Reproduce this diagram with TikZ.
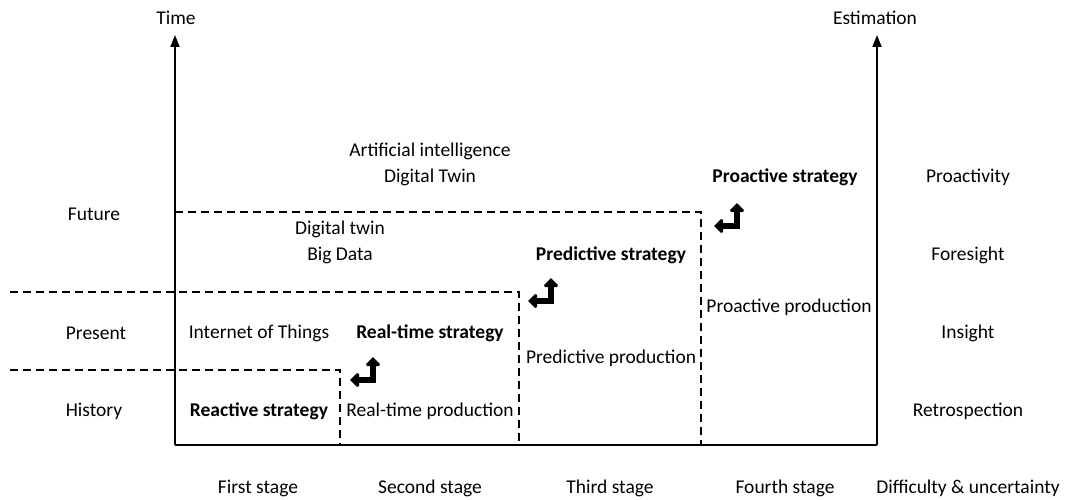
\documentclass[tikz,border=0pt]{standalone}
\usepackage{fontspec}
\setmainfont{Carlito}
\usetikzlibrary{arrows.meta,positioning}

\tikzset{
  lbl/.style={font=\fontsize{19.5}{23}\selectfont, inner sep=0pt, yshift=-1.5pt},
  blbl/.style={font=\fontsize{19.5}{23}\selectfont\bfseries, inner sep=0pt, yshift=-1.5pt},
  axis/.style={line width=2pt, -{Triangle[length=12pt,width=9pt]}},
  stageline/.style={line width=2pt, dash pattern=on 8pt off 5pt},
  turn/.style={line width=6pt, miter limit=2,
    {Triangle[length=9pt,width=17pt]}-{Triangle[length=9pt,width=17pt]}}
}

\begin{document}
\begin{tikzpicture}[x=1pt,y=-1pt]
\useasboundingbox (0,0) rectangle (1067,500);
% Axes
\coordinate (o) at (175,445);
\coordinate (ttop) at (175,35);
\coordinate (ebot) at (877,445);
\coordinate (etop) at (877,35);
\draw[axis] (o) -- (ttop);
\draw[axis] (ebot) -- (etop);
\draw[line width=2pt] (o) -- (ebot);
\node[lbl] (time) at (176,16) {Time};
\node[lbl] (est) at (875,16) {Estimation};
% Stage borders
\draw[stageline] (175,212) -- (701,212) -- (701,445);
\draw[stageline] (10,292) -- (519,292) -- (519,445);
\draw[stageline] (10,370) -- (340,370) -- (340,445);
% Time levels
\node[lbl] (future) at (94,213) {Future};
\node[lbl] (present) at (96,332) {Present};
\node[lbl] (history) at (94,410) {History};
% Estimation levels
\node[lbl] (proact) at (968,176) {Proactivity};
\node[lbl] (foresight) at (968,254) {Foresight};
\node[lbl] (insight) at (968,332) {Insight};
\node[lbl] (retro) at (968,410) {Retrospection};
% Stages
\node[lbl] (s1) at (258,487) {First stage};
\node[lbl] (s2) at (430,487) {Second stage};
\node[lbl] (s3) at (610,487) {Third stage};
\node[lbl] (s4) at (785,487) {Fourth stage};
\node[lbl] (diff) at (968,487) {Difficulty \& uncertainty};
% Technologies
\node[lbl] (ai) at (430,150) {Artificial intelligence};
\node[lbl] (dt1) at (430,176) {Digital Twin};
\node[lbl] (dt2) at (340,228) {Digital twin};
\node[lbl] (bd) at (340,254) {Big Data};
\node[lbl] (iot) at (259,332) {Internet of Things};
% Strategies and production
\node[blbl] (reactive) at (259,410) {Reactive strategy};
\node[blbl] (realtime) at (430,332) {Real-time strategy};
\node[lbl] (rtprod) at (430,410) {Real-time production};
\node[blbl] (predictive) at (611,254) {Predictive strategy};
\node[lbl] (prprod) at (611,357) {Predictive production};
\node[blbl] (proactive) at (785,176) {Proactive strategy};
\node[lbl] (paprod) at (789,306) {Proactive production};
% Turn arrows
\draw[turn] (350,380) -| (373,357);
\draw[turn] (528,301) -| (551,278);
\draw[turn] (714,226) -| (737,203);
\end{tikzpicture}
\end{document}
